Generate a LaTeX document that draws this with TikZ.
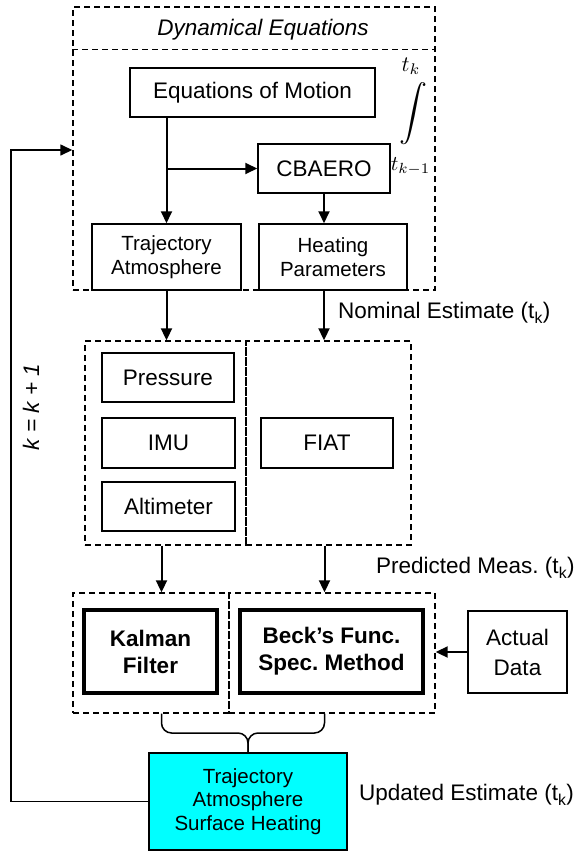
\documentclass[tikz,border=0pt]{standalone}
\usepackage{fontspec}
\setmainfont{Liberation Sans}
\usepackage{graphicx}
\usetikzlibrary{positioning,arrows.meta}
\definecolor{aqua}{RGB}{0,255,255}
\frenchspacing

\begin{document}
\begin{tikzpicture}[x=1pt, y=-1pt,
  >={Triangle[length=12pt,width=11pt]},
  box/.style={draw, line width=1.5pt, rectangle, align=center, inner sep=0pt, fill=white, font=\fontsize{22.5}{27}\selectfont},
  smallbox/.style={box, font=\fontsize{20.5}{23.5}\selectfont},
  thickbox/.style={box, line width=3.5pt, font=\fontsize{22.5}{27}\selectfont\bfseries},
  dashbox/.style={draw, dash pattern=on 6pt off 4pt, line width=1.4pt, rectangle, inner sep=0pt},
  dashline/.style={dash pattern=on 6pt off 4pt, line width=1.4pt},
  lbl/.style={anchor=west, inner sep=0pt, font=\fontsize{22.5}{27}\selectfont},
  arr/.style={->, line width=2pt}]
\useasboundingbox (0,0) rectangle (575,852);

% dynamical equations
\node[dashbox, minimum width=362pt, minimum height=283pt] (dyn) at (254,148.5) {};
\node[font=\fontsize{22.5}{27}\selectfont\itshape] (dyntitle) at (263,30) {Dynamical Equations};
\draw[dashline] ([yshift=-43pt]dyn.north west) -- ([yshift=-43pt]dyn.north east);

\node[box, minimum width=245pt, minimum height=49pt] (eom) at (252.5,92.5) {Equations of Motion};
\node[box, minimum width=132pt, minimum height=49pt] (cbaero) at (324,168.5) {CBAERO};
\node[smallbox, minimum width=149pt, minimum height=66pt] (traj) at (166.5,257) {Trajectory\\Atmosphere};
\node[smallbox, minimum width=148pt, minimum height=66pt] (heat) at (333,257) {Heating\\Parameters};

\node[inner sep=0pt] (tk) at (411,66) {\scalebox{2.2}{$t_k$}};
\node[inner sep=0pt] (intsign) at (413,114) {\scalebox{2.8}{$\displaystyle\int$}};
\node[inner sep=0pt] (tkm) at (410.5,166) {\scalebox{2.1}{$t_{k-1}$}};

\coordinate (split) at (traj.north |- cbaero.west);
\draw[arr] (eom.south -| traj.north) -- (traj.north);
\draw[arr] (split) -- (cbaero.west);
\draw[arr] (cbaero.south) -- (cbaero.south |- heat.north);

% predicted measurements
\node[dashbox, minimum width=161pt, minimum height=204pt] (sensL) at (165.5,443) {};
\node[dashbox, minimum width=165pt, minimum height=204pt] (sensR) at (328.5,443) {};
\node[box, minimum width=132pt, minimum height=49pt] (pressure) at (168,377.5) {Pressure};
\node[box, minimum width=133pt, minimum height=50pt] (imu) at (168.5,443) {IMU};
\node[box, minimum width=133pt, minimum height=49pt] (alt) at (168.5,506.5) {Altimeter};
\node[box, minimum width=132pt, minimum height=50pt] (fiat) at (327,443) {FIAT};

\draw[arr] (traj.south) -- (traj.south |- sensL.north);
\draw[arr] (cbaero.south |- heat.south) -- (cbaero.south |- sensR.north);
\node[lbl] (nominal) at (338,313) {Nominal Estimate (t\textsubscript{k})};

% estimation
\node[dashbox, minimum width=156pt, minimum height=120pt] (filtL) at (151,653) {};
\node[dashbox, minimum width=206pt, minimum height=120pt] (filtR) at (332,653) {};
\node[thickbox, minimum width=133pt, minimum height=83pt] (kalman) at (150.5,651.5) {Kalman\\Filter};
\node[thickbox, minimum width=183pt, minimum height=83pt] (beck) at (331.5,651.5) {Beck’s Func.\\Spec. Method};
\node[box, minimum width=99pt, minimum height=82pt, font=\fontsize{22.5}{30}\selectfont] (actual) at (517.5,652) {Actual\\Data};

\draw[arr] ([xshift=-4pt]sensL.south) -- ([xshift=-4pt]sensL.south |- filtL.north);
\draw[arr] ([xshift=-4pt]sensR.south) -- ([xshift=-4pt]sensR.south |- filtR.north);
\draw[arr] (actual.west) -- (actual.west -| filtR.east);
\node[lbl] (predicted) at (376,568) {Predicted Meas. (t\textsubscript{k})};

% update
\node[smallbox, fill=aqua, minimum width=198pt, minimum height=97pt] (upd) at (248,801.5) {Trajectory\\Atmosphere\\Surface Heating};
\coordinate (bmid) at (upd.north |- 0,733);
\draw[rounded corners=10pt, line width=1.5pt] ([xshift=-4pt]sensL.south |- filtL.south) |- (bmid) -- (upd.north);
\draw[rounded corners=10pt, line width=1.5pt] ([xshift=-4pt]sensR.south |- filtR.south) |- (bmid) -- (upd.north);
\node[lbl] (updated) at (359,795) {Updated Estimate (t\textsubscript{k})};

% loop back
\coordinate (fbtop) at (11,150);
\draw[arr, line width=1.5pt] (upd.west) -| (fbtop) -- (fbtop -| dyn.west);
\node[rotate=90, font=\fontsize{22.5}{27}\selectfont\itshape] (kinc) at (31,407) {k = k + 1};
\end{tikzpicture}
\end{document}
